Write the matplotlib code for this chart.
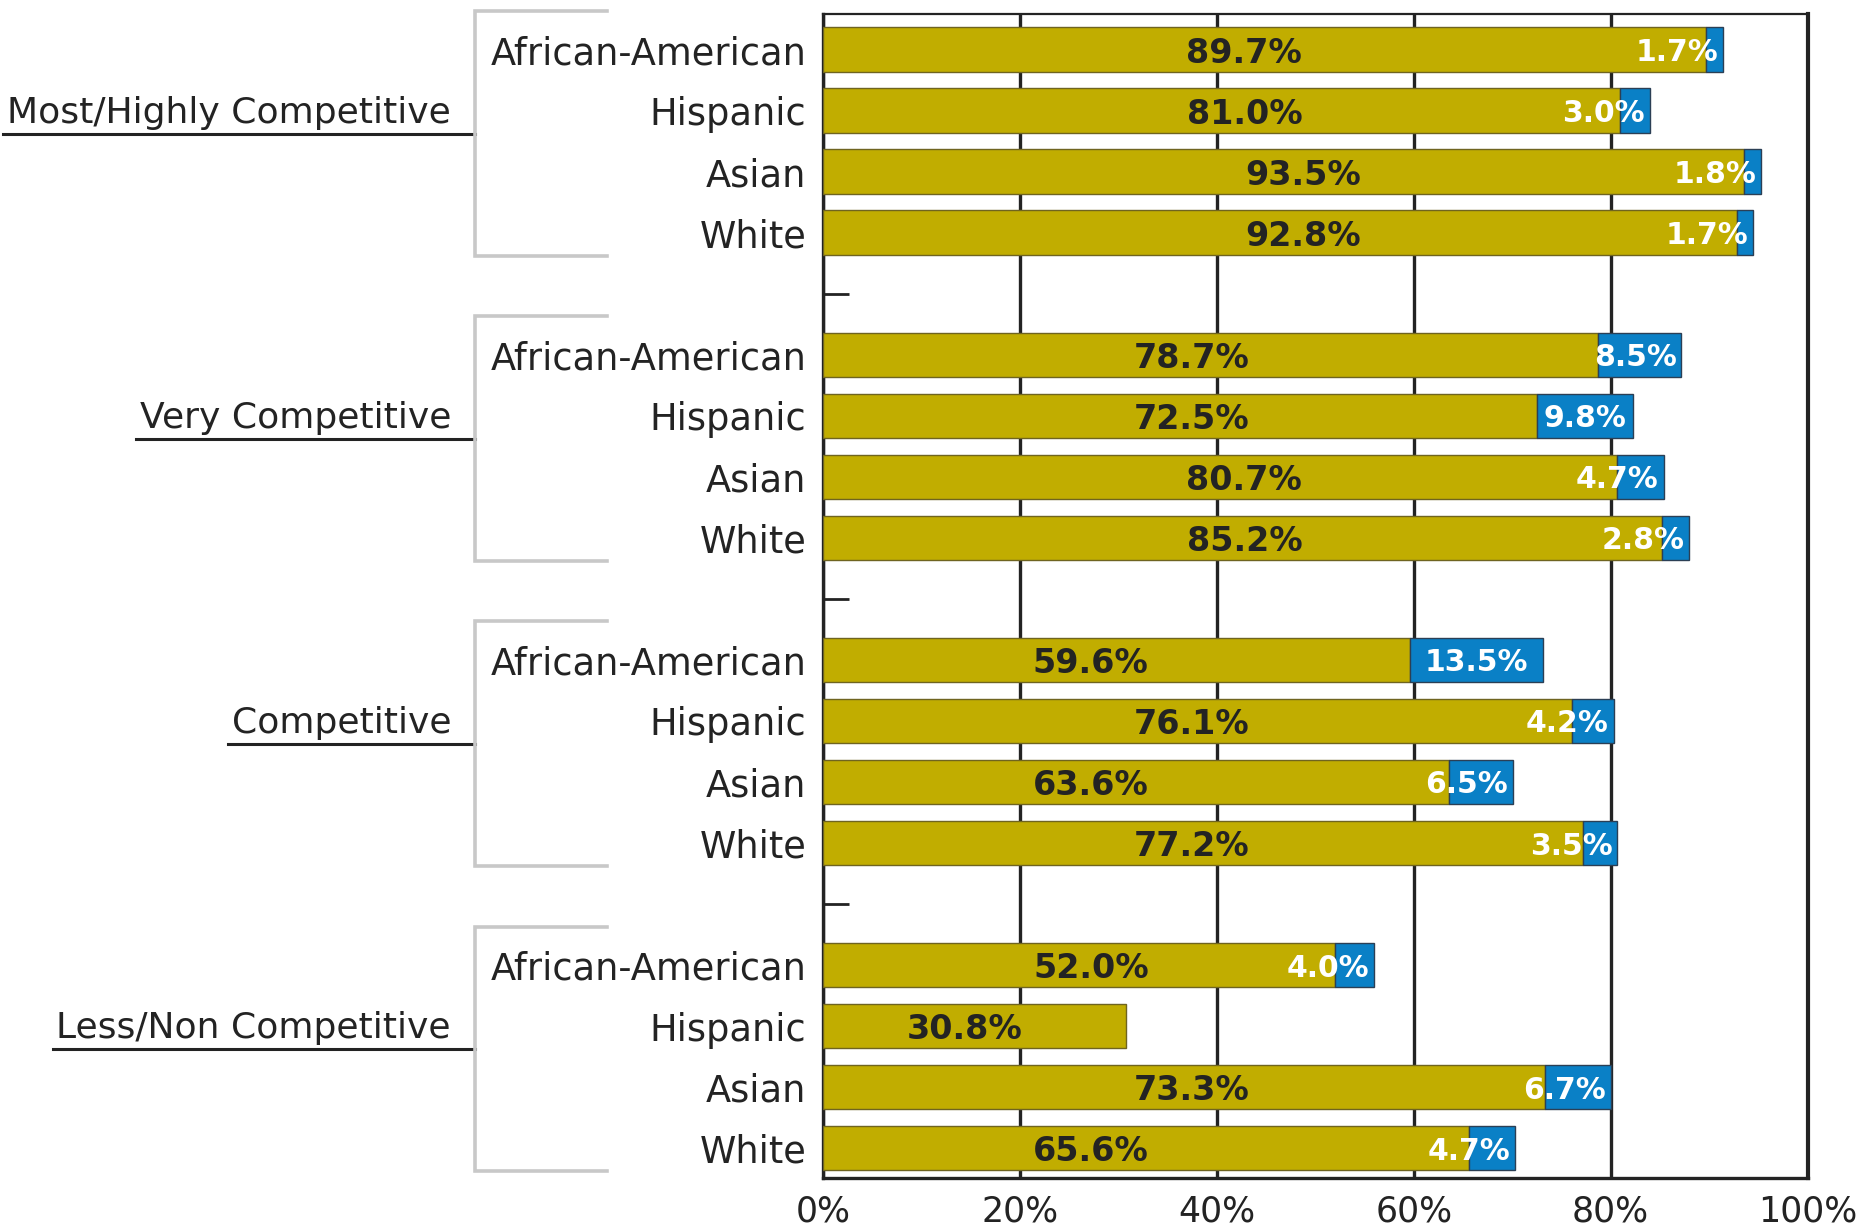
import matplotlib
matplotlib.use("Agg")
import matplotlib.pyplot as plt
from matplotlib.lines import Line2D
from matplotlib.transforms import blended_transform_factory

# Data (percent of students)
GROUPS = ["Most/Highly Competitive", "Very Competitive", "Competitive", "Less/Non Competitive"]
RACES = ["African-American", "Hispanic", "Asian", "White"]
GOLD_VALUES = [
    [89.7, 81.0, 93.5, 92.8],
    [78.7, 72.5, 80.7, 85.2],
    [59.6, 76.1, 63.6, 77.2],
    [52.0, 30.8, 73.3, 65.6],
]
BLUE_VALUES = [
    [1.7, 3.0, 1.8, 1.7],
    [8.5, 9.8, 4.7, 2.8],
    [13.5, 4.2, 6.5, 3.5],
    [4.0, 0.0, 6.7, 4.7],
]
X_TICKS = [0, 20, 40, 60, 80, 100]

# Layout: where the gold labels sit along x (the original does not centre them)
GOLD_LABEL_X = [
    [42.8, 42.8, 48.8, 48.8],
    [37.4, 37.4, 42.8, 42.8],
    [27.2, 37.4, 27.2, 37.4],
    [27.2, 14.4, 37.4, 27.2],
]

COLOR_GOLD = "#C1AD00"
COLOR_BLUE = "#0A80C6"
COLOR_DARK = "#232323"
COLOR_BRACKET = "#C8C8C8"

W, H, DPI = 1864, 1232, 100
SLOT_GAP = 5          # 4 bars + 1 empty slot per group
BAR_H = 0.73

fig = plt.figure(figsize=(W / DPI, H / DPI), dpi=DPI)
ax = fig.add_axes([0.4415, 0.0438, 0.5282, 0.9446])

ypos, ylabels = [], []
for g in range(len(GROUPS)):
    for r, race in enumerate(RACES):
        y = g * SLOT_GAP + r
        ypos.append(y)
        ylabels.append(race)
        gold = GOLD_VALUES[g][r]
        blue = BLUE_VALUES[g][r]
        ax.barh(y, gold, height=BAR_H, color=COLOR_GOLD, edgecolor="#6f6420",
                linewidth=1.0, zorder=3)
        ax.text(GOLD_LABEL_X[g][r], y, f"{gold:.1f}%", ha="center", va="center_baseline",
                fontsize=24, weight="bold", color=COLOR_DARK, zorder=5)
        if blue > 0:
            ax.barh(y, blue, left=gold, height=BAR_H, color=COLOR_BLUE,
                    edgecolor="#2b3f55", linewidth=1.0, zorder=3)
            total = gold + blue
            bx = min(gold + blue / 2, total - 4.7)
            ax.text(bx, y, f"{blue:.1f}%", ha="center", va="center_baseline",
                    fontsize=21.5, weight="bold", color="white", zorder=5)

ax.set_xlim(0, 100)
ax.set_ylim(18.49, -0.58)

ax.set_xticks(X_TICKS, [f"{t}%" for t in X_TICKS])
ax.xaxis.grid(True, color=COLOR_DARK, linewidth=2.4)
ax.set_axisbelow(True)
ax.tick_params(axis="x", length=0, pad=12, labelsize=25, labelcolor=COLOR_DARK)

ax.set_yticks(ypos, ylabels)
ax.tick_params(axis="y", which="major", length=0, pad=12, labelsize=26.5,
               labelcolor=COLOR_DARK)
gap_slots = [g * SLOT_GAP + len(RACES) for g in range(len(GROUPS) - 1)]
ax.set_yticks(gap_slots, minor=True)
ax.tick_params(axis="y", which="minor", direction="in", length=19, width=2.0,
               color=COLOR_DARK)

for side, lw in (("left", 2.4), ("bottom", 2.4), ("top", 1.6), ("right", 3.0)):
    ax.spines[side].set_color(COLOR_DARK)
    ax.spines[side].set_linewidth(lw)

# Group labels with underline and grey bracket
trans = blended_transform_factory(fig.transFigure, ax.transData)
renderer = fig.canvas.get_renderer()
BRACKET_X = 475 / W
ARM_X = 607 / W
TEXT_RIGHT = 451 / W
for g, name in enumerate(GROUPS):
    first = g * SLOT_GAP
    last = first + len(RACES) - 1
    center = (first + last) / 2
    txt = fig.text(TEXT_RIGHT, center - 0.3, name, transform=trans, ha="right",
                   va="baseline", fontsize=26, color=COLOR_DARK)
    bb = txt.get_window_extent(renderer=renderer)
    x0 = (bb.x0 - 4) / W
    fig.add_artist(Line2D([x0, BRACKET_X], [center - 0.12, center - 0.12],
                          transform=trans, color=COLOR_DARK, linewidth=2.2))
    fig.add_artist(Line2D([ARM_X, BRACKET_X, BRACKET_X, ARM_X],
                          [first - 0.63, first - 0.63, last + 0.38, last + 0.38],
                          transform=trans, color=COLOR_BRACKET, linewidth=2.6,
                          solid_joinstyle="miter"))

fig.savefig("out.png", dpi=DPI)
